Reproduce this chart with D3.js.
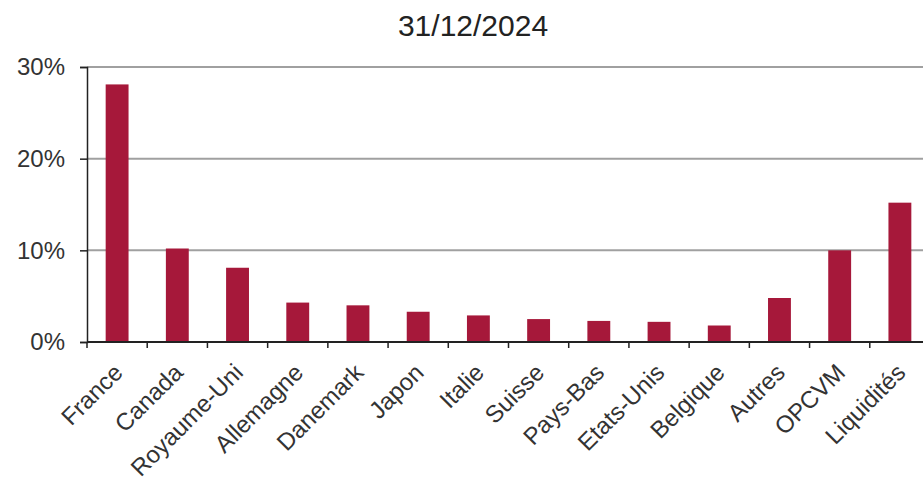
<!DOCTYPE html>
<html>
<head>
<meta charset="utf-8">
<script src="https://cdn.jsdelivr.net/npm/d3@7"></script>
<style>
  body { margin: 0; background: #fff; }
  svg { display: block; font-family: Arial, "Liberation Sans", sans-serif; }
</style>
</head>
<body>
<div id="chart"></div>
<script>
const title = "31/12/2024";
const categories = ["France", "Canada", "Royaume-Uni", "Allemagne", "Danemark", "Japon", "Italie",
  "Suisse", "Pays-Bas", "Etats-Unis", "Belgique", "Autres", "OPCVM", "Liquidités"];
const values = [28.1, 10.2, 8.1, 4.3, 4.0, 3.3, 2.9, 2.5, 2.3, 2.2, 1.8, 4.8, 10.0, 15.2];
const yTicks = [0, 10, 20, 30];

(function() {
  const width = 923;
  const height = 485;
  const margin = { top: 67, right: -7, bottom: 143, left: 87 };
  const innerW = width - margin.left - margin.right;
  const innerH = height - margin.top - margin.bottom;

  const svg = d3.select("#chart")
    .append("svg")
    .attr("width", width)
    .attr("height", height);

  // Title
  svg.append("text")
    .attr("x", 473)
    .attr("y", 36)
    .attr("text-anchor", "middle")
    .attr("font-size", "30px")
    .attr("fill", "#222")
    .text(title);

  const g = svg.append("g")
    .attr("transform", `translate(${margin.left},${margin.top})`);

  const x = d3.scaleBand()
    .domain(categories)
    .range([0, innerW])
    .paddingInner(0.62)
    .paddingOuter(0.31);

  const xStep = d3.scaleBand().domain(categories).range([0, innerW]);

  const y = d3.scaleLinear()
    .domain([0, 30])
    .range([innerH, 0]);

  // Gridlines
  g.selectAll(".grid")
    .data(yTicks.filter(d => d > 0))
    .join("line")
    .attr("class", "grid")
    .attr("x1", 0)
    .attr("x2", innerW)
    .attr("y1", d => y(d))
    .attr("y2", d => y(d))
    .attr("stroke", "#a0a0a0")
    .attr("stroke-width", 2);

  // Bars
  g.selectAll("rect")
    .data(values)
    .join("rect")
    .attr("x", (d, i) => x(categories[i]))
    .attr("y", d => y(d))
    .attr("width", x.bandwidth())
    .attr("height", d => innerH - y(d))
    .attr("fill", "#a6183a");

  // Y axis
  const yAxis = g.append("g")
    .call(d3.axisLeft(y).tickValues(yTicks).tickFormat(d => d + "%").tickSize(7).tickPadding(15));
  yAxis.select(".domain").attr("stroke", "#222").attr("stroke-width", 1.5);
  yAxis.selectAll(".tick line").attr("stroke", "#222").attr("stroke-width", 1.5);
  yAxis.selectAll(".tick text")
    .attr("font-size", "24px")
    .attr("fill", "#333")
    .attr("font-family", "Arial, 'Liberation Sans', sans-serif");

  // X axis (ticks at category boundaries)
  const boundaries = categories.map(c => xStep(c));
  g.append("line")
    .attr("x1", 0).attr("x2", innerW)
    .attr("y1", innerH).attr("y2", innerH)
    .attr("stroke", "#222").attr("stroke-width", 2);
  g.selectAll(".xtick")
    .data(boundaries)
    .join("line")
    .attr("class", "xtick")
    .attr("x1", d => d).attr("x2", d => d)
    .attr("y1", innerH).attr("y2", innerH + 6)
    .attr("stroke", "#222").attr("stroke-width", 1.5);

  // X labels
  g.selectAll(".xlabel")
    .data(categories)
    .join("text")
    .attr("class", "xlabel")
    .attr("transform", d => `translate(${xStep(d) + xStep.bandwidth() / 2 + 7},${innerH + 32}) rotate(-45)`)
    .attr("text-anchor", "end")
    .attr("font-size", "24px")
    .attr("fill", "#333")
    .text(d => d);
})();
</script>
</body>
</html>
